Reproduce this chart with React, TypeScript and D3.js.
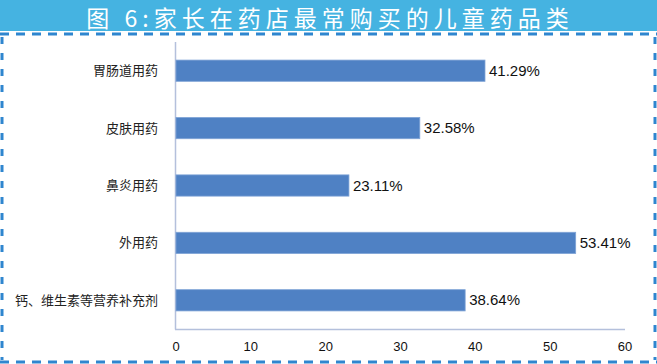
import React, { useEffect, useRef } from "react";
import * as d3 from "d3";

const categories = ["胃肠道用药", "皮肤用药", "鼻炎用药", "外用药", "钙、维生素等营养补充剂"];
const values = [41.29, 32.58, 23.11, 53.41, 38.64];
const ticks = [0, 10, 20, 30, 40, 50, 60];
const title = "图 6:家长在药店最常购买的儿童药品类";

export default function App() {
  const svgRef = useRef<SVGSVGElement>(null);

  useEffect(() => {
    const width = 657;
    const height = 364;
    const svg = d3.select(svgRef.current);
    svg.selectAll("*").remove();

    svg.append("rect").attr("width", width).attr("height", height).attr("fill", "#fff");

    // title banner
    svg.append("rect").attr("x", 0).attr("y", 0).attr("width", width).attr("height", 31).attr("fill", "#45b3e1");
    svg.append("text")
      .attr("x", 330).attr("y", 27)
      .attr("text-anchor", "middle")
      .attr("fill", "#fff")
      .attr("font-family", "Noto Sans CJK SC")
      .attr("font-size", 23)
      .attr("letter-spacing", 5)
      .text(title);

    // dashed frame
    const dash = { stroke: "#2f86cf", w: 3 };
    svg.append("line").attr("x1", 0).attr("x2", width).attr("y1", 34).attr("y2", 34)
      .attr("stroke", dash.stroke).attr("stroke-width", dash.w).attr("stroke-dasharray", "9,7");
    svg.append("line").attr("x1", 0).attr("x2", width).attr("y1", 362).attr("y2", 362)
      .attr("stroke", dash.stroke).attr("stroke-width", dash.w).attr("stroke-dasharray", "9,7");
    svg.append("line").attr("x1", 2).attr("x2", 2).attr("y1", 37).attr("y2", 360)
      .attr("stroke", dash.stroke).attr("stroke-width", dash.w).attr("stroke-dasharray", "7,9");
    svg.append("line").attr("x1", 655).attr("x2", 655).attr("y1", 37).attr("y2", 360)
      .attr("stroke", dash.stroke).attr("stroke-width", dash.w).attr("stroke-dasharray", "7,9");

    const x = d3.scaleLinear().domain([0, 60]).range([176, 625]);
    const y = d3.scaleBand().domain(categories).range([42, 329]).paddingInner(0.63).paddingOuter(0.315);

    // axes lines
    svg.append("line").attr("x1", 175.5).attr("x2", 175.5).attr("y1", 42).attr("y2", 329.5)
      .attr("stroke", "#b4c0dc").attr("stroke-width", 1.5);
    svg.append("line").attr("x1", 175).attr("x2", 625).attr("y1", 329.5).attr("y2", 329.5)
      .attr("stroke", "#b4c0dc").attr("stroke-width", 1.5);

    svg.append("g").selectAll("rect")
      .data(values)
      .join("rect")
      .attr("x", x(0))
      .attr("y", (d, i) => y(categories[i])!)
      .attr("width", d => x(d) - x(0))
      .attr("height", y.bandwidth())
      .attr("fill", "#4f81c4")
      .attr("stroke", "#7ea3d6")
      .attr("stroke-width", 0.8);

    svg.append("g").selectAll("text")
      .data(values)
      .join("text")
      .attr("x", d => x(d) + 4)
      .attr("y", (d, i) => y(categories[i])! + y.bandwidth() / 2 + 5)
      .attr("font-family", "Liberation Sans, Arial, sans-serif")
      .attr("font-size", 15)
      .attr("fill", "#111")
      .text(d => d.toFixed(2) + "%");

    svg.append("g").selectAll("text")
      .data(categories)
      .join("text")
      .attr("x", 158)
      .attr("y", d => y(d)! + y.bandwidth() / 2 + 4.5)
      .attr("text-anchor", "end")
      .attr("font-family", "Noto Sans CJK SC")
      .attr("font-size", 13)
      .attr("fill", "#222")
      .text(d => d);

    svg.append("g").selectAll("text")
      .data(ticks)
      .join("text")
      .attr("x", d => x(d))
      .attr("y", 351)
      .attr("text-anchor", "middle")
      .attr("font-family", "Liberation Sans, Arial, sans-serif")
      .attr("font-size", 13)
      .attr("fill", "#111")
      .text(d => d);
  }, []);

  return (
    <svg ref={svgRef} width={657} height={364}
      style={{ position: "absolute", left: 0, top: 0, display: "block" }} />
  );
}
